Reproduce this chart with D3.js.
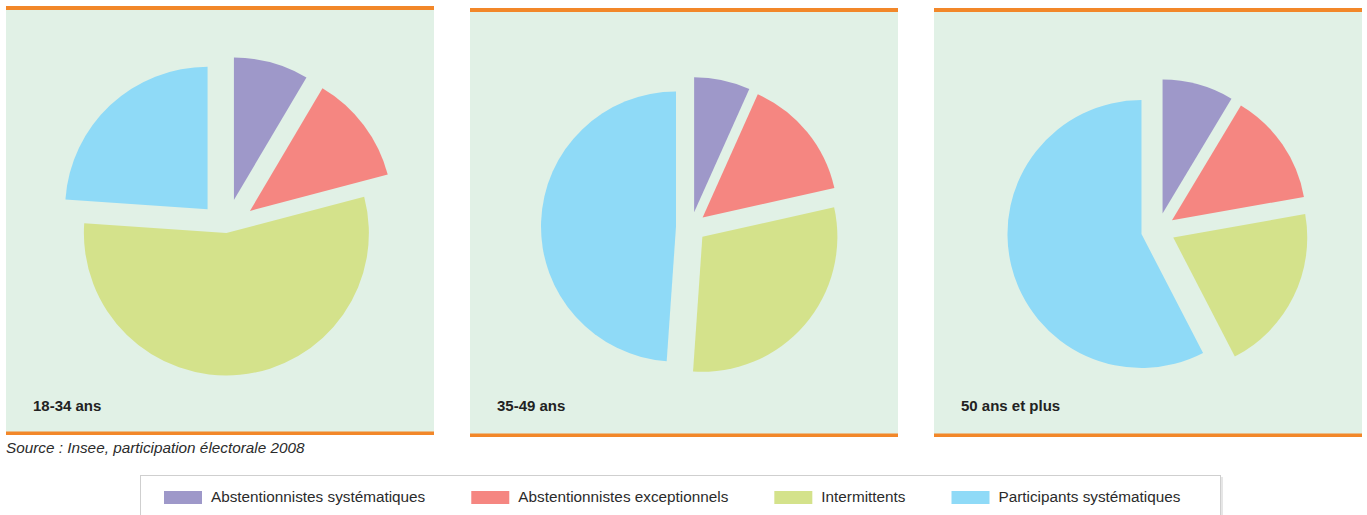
<!DOCTYPE html>
<html>
<head>
<meta charset="utf-8">
<script src="https://cdn.jsdelivr.net/npm/d3@7"></script>
<style>
  body { margin: 0; background: #fff; }
  svg { display: block; font-family: "Liberation Sans", Arial, sans-serif; }
</style>
</head>
<body>
<div id="chart"></div>
<script>
// data
const categories = [
  "Abstentionnistes systématiques",
  "Abstentionnistes exceptionnels",
  "Intermittents",
  "Participants systématiques"
];
const groups = ["18-34 ans", "35-49 ans", "50 ans et plus"];
const values1834 = [8.5, 12.4, 55.2, 23.9];
const values3549 = [6.7, 14.8, 29.6, 48.9];
const values50plus = [8.6, 13.6, 20.2, 57.6];
const sourceText = "Source : Insee, participation électorale 2008";

// styles
const colors = ["#9e98c9", "#f58681", "#d4e28b", "#8fdaf7"];
const panelBg = "#e1f1e6";
const orange = "#f28729";
const w = 1367;
const h = 515;
const panelW = 428;
const panelH = 429;

// one entry per panel: left, top, pie centre (relative), radius, slice pull-out
const layout = [
  { x: 6, y: 6, cx: 220, cy: 223, r: 142.5, explode: [30, 30, 4, 27] },
  { x: 470, y: 8, cx: 221, cy: 219, r: 135, explode: [15, 15, 15, 15] },
  { x: 934, y: 8, cx: 224, cy: 222, r: 134, explode: [17, 17, 17, 17] }
];
const series = [values1834, values3549, values50plus];

const svg = d3
  .select("#chart")
  .append("svg")
  .attr("width", w)
  .attr("height", h);

const color = d3.scaleOrdinal().domain(categories).range(colors);
const pie = d3.pie().sort(null).value((d) => d.value);

// panels
groups.forEach((name, i) => {
  const L = layout[i];
  const g = svg.append("g").attr("transform", `translate(${L.x},${L.y})`);

  g.append("rect")
    .attr("width", panelW)
    .attr("height", panelH)
    .attr("fill", panelBg);
  g.append("rect")
    .attr("width", panelW)
    .attr("height", 4)
    .attr("fill", orange);
  g.append("rect")
    .attr("y", panelH - 3.5)
    .attr("width", panelW)
    .attr("height", 3.5)
    .attr("fill", orange);

  const arc = d3.arc().innerRadius(0).outerRadius(L.r);
  const data = series[i].map((v, k) => ({ cat: categories[k], value: v }));

  g.append("g")
    .attr("transform", `translate(${L.cx},${L.cy})`)
    .selectAll("path")
    .data(pie(data))
    .enter()
    .append("path")
    .attr("d", arc)
    .attr("fill", (d) => color(d.data.cat))
    .attr("transform", (d, k) => {
      const mid = (d.startAngle + d.endAngle) / 2;
      const off = L.explode[k];
      return `translate(${Math.sin(mid) * off},${-Math.cos(mid) * off})`;
    });

  g.append("text")
    .attr("x", 27)
    .attr("y", 410.5 - L.y)
    .attr("font-size", 15)
    .attr("font-weight", "bold")
    .attr("fill", "#222")
    .text(name);
});

// source
svg
  .append("text")
  .attr("x", 6)
  .attr("y", 453)
  .attr("font-size", 15.3)
  .attr("font-style", "italic")
  .attr("fill", "#2b2b2b")
  .text(sourceText);

// legend
const legend = svg.append("g");
legend
  .append("rect")
  .attr("x", 142)
  .attr("y", 477)
  .attr("width", 1081)
  .attr("height", 60)
  .attr("fill", "#e6e6e6");
legend
  .append("rect")
  .attr("x", 140.5)
  .attr("y", 475.5)
  .attr("width", 1080)
  .attr("height", 60)
  .attr("fill", "#fff")
  .attr("stroke", "#cfcfcf");

let lx = 164;
categories.forEach((c) => {
  legend
    .append("rect")
    .attr("x", lx)
    .attr("y", 491)
    .attr("width", 38)
    .attr("height", 13)
    .attr("fill", color(c));
  const t = legend
    .append("text")
    .attr("x", lx + 47)
    .attr("y", 502)
    .attr("font-size", 15.3)
    .attr("fill", "#2b2b2b")
    .text(c);
  lx += 47 + t.node().getComputedTextLength() + 46;
});
</script>
</body>
</html>
